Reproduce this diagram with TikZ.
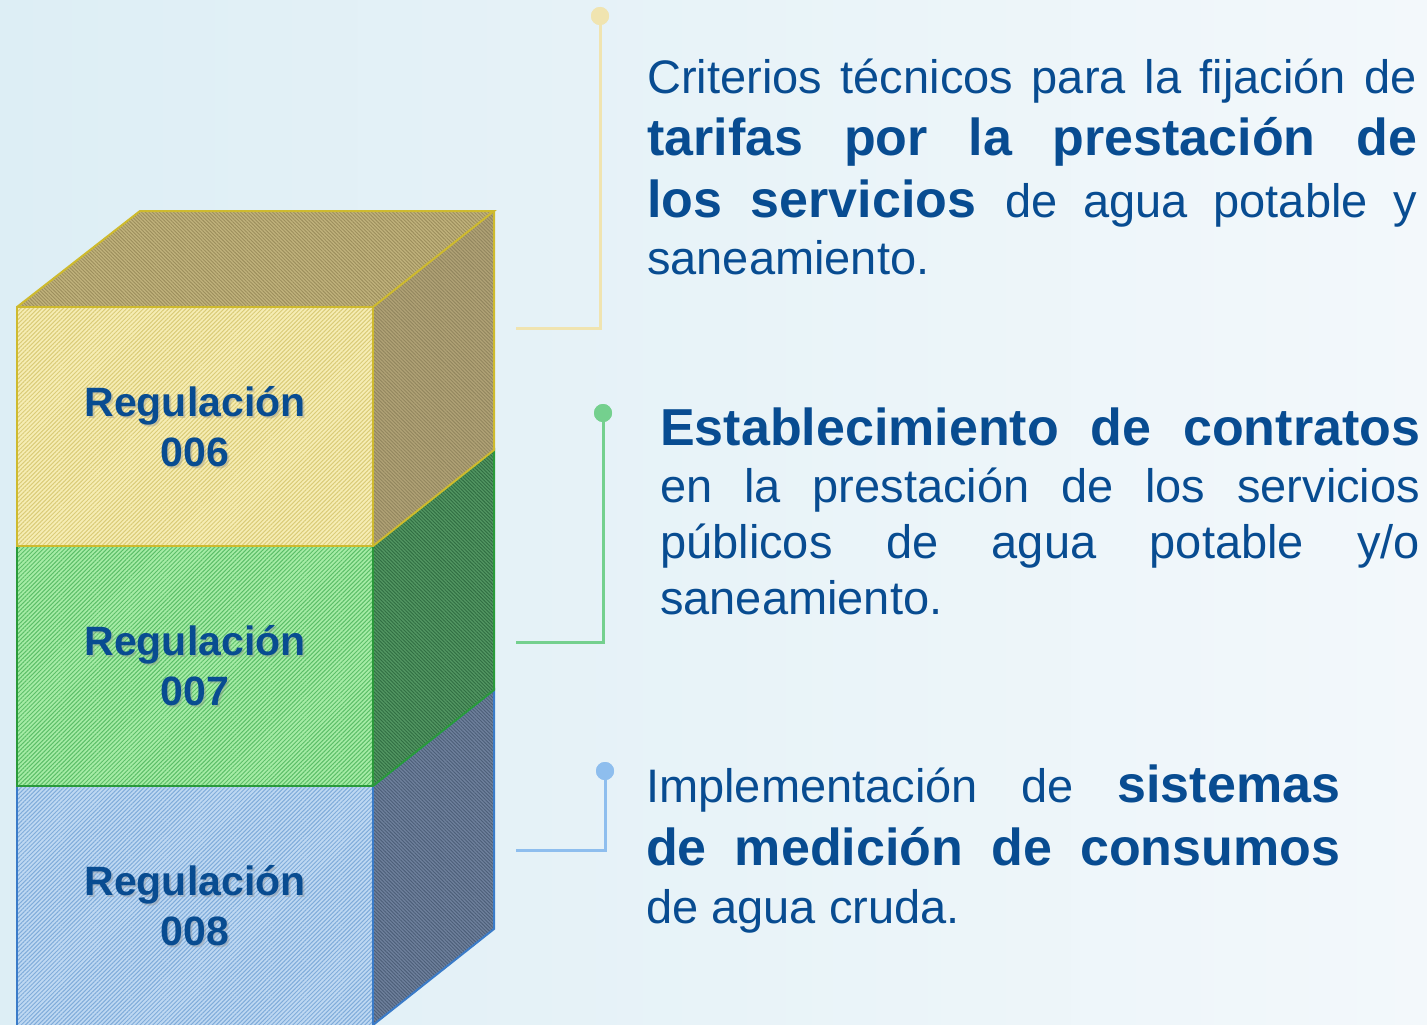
\documentclass[tikz,border=0pt]{standalone}
\usepackage{fontspec}
\setmainfont{Liberation Sans}
\usetikzlibrary{patterns.meta,calc}
\definecolor{txt}{RGB}{8,76,145}
\definecolor{bgl}{RGB}{221,238,245}
\definecolor{bgr}{RGB}{243,248,251}
% cube colours
\definecolor{yfront}{RGB}{246,237,180}\definecolor{yfrontl}{RGB}{218,203,120}
\definecolor{ytop}{RGB}{192,178,124}\definecolor{ytopl}{RGB}{156,142,92}
\definecolor{yside}{RGB}{176,162,118}\definecolor{ysidel}{RGB}{146,134,94}
\definecolor{yedge}{RGB}{206,186,46}
\definecolor{gfront}{RGB}{166,236,166}\definecolor{gfrontl}{RGB}{92,190,104}
\definecolor{gside}{RGB}{82,150,98}\definecolor{gsidel}{RGB}{48,110,66}
\definecolor{gedge}{RGB}{42,154,58}
\definecolor{bfront}{RGB}{190,216,242}\definecolor{bfrontl}{RGB}{128,172,218}
\definecolor{bside}{RGB}{110,128,156}\definecolor{bsidel}{RGB}{76,94,120}
\definecolor{bedge}{RGB}{58,123,200}
% connector colours
\definecolor{cy}{RGB}{240,228,176}
\definecolor{cg}{RGB}{116,208,142}
\definecolor{cb}{RGB}{142,190,238}
\newcommand\txtreg{\mdseries\fontsize{47}{56}\selectfont}
\newcommand\txtbold{\bfseries\fontsize{52}{62}\selectfont}
\tikzset{
  hatchfront/.style={pattern={Lines[angle=45,distance=3pt,line width=1pt]},pattern color=#1},
  hatchside/.style={pattern={Lines[angle=-45,distance=2.5pt,line width=0.9pt]},pattern color=#1},
  lab/.style={text=txt,align=center,font=\bfseries\fontsize{41}{50}\selectfont,inner sep=0pt},
  labshadow/.style={text=black!45,opacity=0.35,align=center,font=\bfseries\fontsize{41}{50}\selectfont,inner sep=0pt},
  line/.style={anchor=base west,inner sep=0pt,text=txt},
  dot/.style={circle,fill=#1,minimum size=18pt,inner sep=0pt},
  conn/.style={draw=#1,line width=3pt},
  shadowconn/.style={draw=black!35,line width=3pt,opacity=0.35},
}
\begin{document}
\begin{tikzpicture}[x=1pt,y=-1pt]
\useasboundingbox (0,0) rectangle (1427,1025);
\shade[left color=bgl,right color=bgr] (0,0) rectangle (1427,1025);

% ---- blue block ----
\fill[bfront] (17,786) rectangle (373,1025);
\fill[hatchfront=bfrontl] (17,786) rectangle (373,1025);
\fill[bside] (373,786) -- (494,690) -- (494,929) -- (373,1025) -- cycle;
\fill[hatchside=bsidel] (373,786) -- (494,690) -- (494,929) -- (373,1025) -- cycle;
\draw[bedge,line width=2pt] (17,1025) -- (17,786) -- (373,786) -- (373,1025);
\draw[bedge,line width=2pt] (373,786) -- (494,690) -- (494,929) -- (373,1025);

% ---- green block ----
\fill[gfront] (17,546) rectangle (373,786);
\fill[hatchfront=gfrontl] (17,546) rectangle (373,786);
\fill[gside] (373,546) -- (494,450) -- (494,690) -- (373,786) -- cycle;
\fill[hatchside=gsidel] (373,546) -- (494,450) -- (494,690) -- (373,786) -- cycle;
\draw[gedge,line width=2pt] (17,546) rectangle (373,786);
\draw[gedge,line width=2pt] (373,546) -- (494,450) -- (494,690) -- (373,786);

% ---- yellow block ----
\fill[yfront] (17,307) rectangle (373,546);
\fill[hatchfront=yfrontl] (17,307) rectangle (373,546);
\fill[yside] (373,307) -- (494,211) -- (494,450) -- (373,546) -- cycle;
\fill[hatchside=ysidel] (373,307) -- (494,211) -- (494,450) -- (373,546) -- cycle;
\fill[ytop] (17,307) -- (140,211) -- (494,211) -- (373,307) -- cycle;
\fill[hatchside=ytopl] (17,307) -- (140,211) -- (494,211) -- (373,307) -- cycle;
\draw[yedge,line width=2pt] (17,546) rectangle (373,307);
\draw[yedge,line width=2pt] (17,307) -- (140,211) -- (494,211) -- (373,307);
\draw[yedge,line width=2pt] (494,211) -- (494,450) -- (373,546);

% ---- labels ----
\node[labshadow] at (197,429) {Regulación\\006};
\node[labshadow] at (197,668) {Regulación\\007};
\node[labshadow] at (197,908) {Regulación\\008};
\node[lab] (r6) at (195,427) {Regulación\\006};
\node[lab] (r7) at (195,666) {Regulación\\007};
\node[lab] (r8) at (195,906) {Regulación\\008};

% ---- connectors ----
\coordinate (e1) at (516,328);
\coordinate (e2) at (516,642);
\coordinate (e3) at (516,850);
\node[dot=cy] (d1) at (600,16) {};
\node[dot=cg] (d2) at (603,413) {};
\node[dot=cb] (d3) at (605,771) {};
\begin{scope}[shift={(2,3)}]
  \draw[shadowconn] (d1.center) |- (e1);
  \draw[shadowconn] (d2.center) |- (e2);
  \draw[shadowconn] (d3.center) |- (e3);
\end{scope}
\draw[conn=cy] (d1.center) |- (e1);
\draw[conn=cg] (d2.center) |- (e2);
\draw[conn=cb] (d3.center) |- (e3);
\node[dot=cy] at (d1) {};
\node[dot=cg] at (d2) {};
\node[dot=cb] at (d3) {};

% ---- text 1 ----
\node[line] (t1a) at (647,93) {\makebox[770pt][s]{\txtreg Criterios técnicos para la fijación de}};
\node[line] (t1b) at (647,155) {\makebox[770pt][s]{\txtbold tarifas por la prestación de}};
\node[line] (t1c) at (647,217) {\makebox[770pt][s]{\txtbold los servicios \txtreg de agua potable y}};
\node[line] (t1d) at (647,274) {\txtreg saneamiento.};

% ---- text 2 ----
\node[line] (t2a) at (660,445) {\makebox[760pt][s]{\txtbold Establecimiento de contratos}};
\node[line] (t2b) at (660,502) {\makebox[760pt][s]{\txtreg en la prestación de los servicios}};
\node[line] (t2c) at (660,558) {\makebox[760pt][s]{\txtreg públicos de agua potable y/o}};
\node[line] (t2d) at (660,614) {\txtreg saneamiento.};

% ---- text 3 ----
\node[line] (t3a) at (646,802) {\makebox[694pt][s]{\txtreg Implementación de \txtbold sistemas}};
\node[line] (t3b) at (646,865) {\makebox[694pt][s]{\txtbold de medición de consumos}};
\node[line] (t3c) at (646,923) {\txtreg de agua cruda.};
\end{tikzpicture}
\end{document}
